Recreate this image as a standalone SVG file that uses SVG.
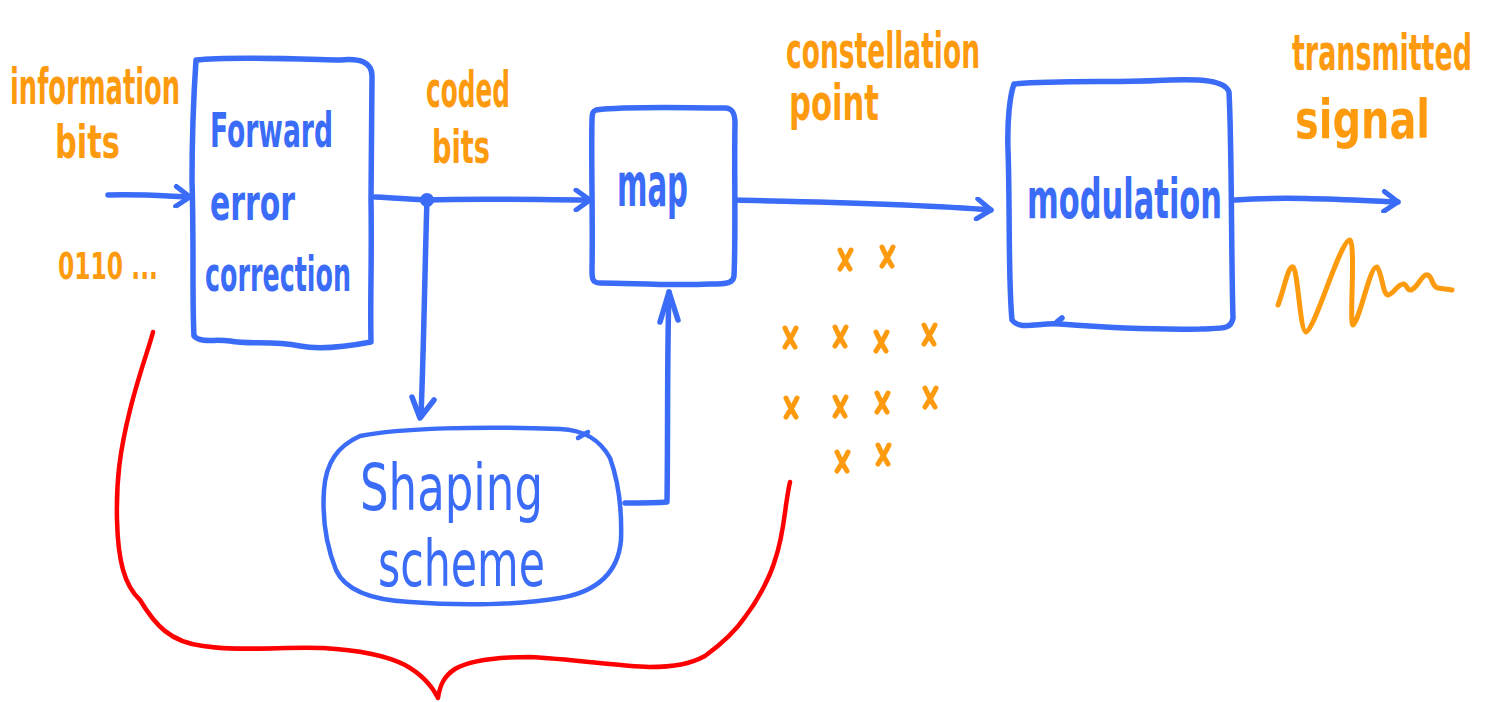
<svg xmlns="http://www.w3.org/2000/svg" xmlns:xlink="http://www.w3.org/1999/xlink" width="1493" height="702" viewBox="0 0 1493 702">
  <style>
    .ink { fill: none; stroke: #3b6cf7; stroke-width: 5.5; stroke-linecap: round; stroke-linejoin: round; }
    .thin { stroke-width: 4.5; }
    .hand { font-family: "Liberation Sans Narrow", "DejaVu Sans Condensed", "Liberation Sans", sans-serif; font-weight: bold; }
    .blue { fill: #3b6cf7; }
    .orange { fill: #fd9a0e; }
    .light { font-weight: normal; }
    .mark { fill: none; stroke: #fd9a0e; stroke-width: 5; stroke-linecap: round; stroke-linejoin: round; }
    .brace { fill: none; stroke: #ff0000; stroke-width: 4.5; stroke-linecap: round; stroke-linejoin: round; }
  </style>
  <defs>
    <path id="xmark" d="M-5,-10 C-2,-3 2,4 5,9 M6,-10 C3,-3 -2,4 -5,9"/>
    <marker id="chev" viewBox="0 0 24 24" refX="20" refY="12" markerWidth="24" markerHeight="24" markerUnits="userSpaceOnUse" orient="auto">
      <path d="M6,2 L20,12 L6,22" fill="none" stroke="#3b6cf7" stroke-width="5" stroke-linecap="round" stroke-linejoin="round"/>
    </marker>
  </defs>

  <rect width="1493" height="702" fill="#ffffff"/>

  <!-- forward error correction block -->
  <g id="node-fec">
    <path class="ink" d="M196,60 C230,56 300,59 340,60 C360,58 372,62 372,76 L371,200 C372,260 370,300 371,342 C350,346 320,350 300,346 C270,340 250,345 230,341 C215,339 200,343 194,336 C192,300 194,250 192,180 C192,130 194,90 196,60 Z"/>
    <text class="hand blue" x="210" y="147" font-size="48" textLength="123" lengthAdjust="spacingAndGlyphs">Forward</text>
    <text class="hand blue" x="210" y="220" font-size="50" textLength="85" lengthAdjust="spacingAndGlyphs">error</text>
    <text class="hand blue" x="205" y="291" font-size="48" textLength="146" lengthAdjust="spacingAndGlyphs">correction</text>
  </g>

  <!-- mapper block -->
  <g id="node-map">
    <path class="ink" d="M596,110 C630,106 680,108 725,108 C733,108 735,114 735,124 C734,170 736,230 734,276 C733,283 728,284 710,284 C670,286 630,283 600,283 C592,283 592,278 592,270 C593,220 591,160 592,120 C592,113 593,111 596,110 Z"/>
    <text class="hand blue" x="617" y="206" font-size="60" textLength="71" lengthAdjust="spacingAndGlyphs">map</text>
  </g>

  <!-- shaping scheme block -->
  <g id="node-shaping">
    <path class="ink thin" d="M360,436 C400,428 480,426 560,429 C585,430 600,440 610,458 C618,480 622,510 621,540 C618,575 595,592 560,598 C520,605 460,606 410,602 C370,600 345,590 336,570 C326,545 322,520 324,490 C326,462 338,446 360,436 Z"/>
    <path class="ink thin" d="M578,438 L588,432"/>
    <text class="hand blue light" x="360" y="510" font-size="64" textLength="183" lengthAdjust="spacingAndGlyphs">Shaping</text>
    <text class="hand blue light" x="378" y="586" font-size="64" textLength="167" lengthAdjust="spacingAndGlyphs">scheme</text>
  </g>

  <!-- modulation block -->
  <g id="node-modulation">
    <path class="ink" d="M1014,84 C1060,80 1120,83 1170,80 C1200,79 1225,80 1229,92 C1232,150 1231,250 1233,318 C1231,330 1222,328 1200,329 C1150,330 1100,327 1060,324 C1040,322 1020,331 1012,320 C1008,280 1010,200 1008,150 C1007,120 1010,95 1014,84 Z"/>
    <path class="ink" d="M1057,322 L1062,318"/>
    <text class="hand blue" x="1027" y="218" font-size="56" textLength="195" lengthAdjust="spacingAndGlyphs">modulation</text>
  </g>

  <!-- signal labels -->
  <g id="labels">
    <text class="hand orange" x="10" y="104" font-size="50" textLength="170" lengthAdjust="spacingAndGlyphs">information</text>
    <text class="hand orange" x="55" y="158" font-size="46" textLength="65" lengthAdjust="spacingAndGlyphs">bits</text>
    <text class="hand orange" x="58" y="279" font-size="38" textLength="100" lengthAdjust="spacingAndGlyphs">0110 ...</text>
    <text class="hand orange" x="426" y="107" font-size="50" textLength="84" lengthAdjust="spacingAndGlyphs">coded</text>
    <text class="hand orange" x="432" y="163" font-size="46" textLength="58" lengthAdjust="spacingAndGlyphs">bits</text>
    <text class="hand orange" x="786" y="68" font-size="50" textLength="194" lengthAdjust="spacingAndGlyphs">constellation</text>
    <text class="hand orange" x="789" y="120" font-size="50" textLength="90" lengthAdjust="spacingAndGlyphs">point</text>
    <text class="hand orange" x="1292" y="70" font-size="50" textLength="180" lengthAdjust="spacingAndGlyphs">transmitted</text>
    <text class="hand orange" x="1295" y="138" font-size="54" textLength="135" lengthAdjust="spacingAndGlyphs">signal</text>
  </g>

  <!-- connectors -->
  <g id="connectors">
    <path class="ink" d="M108,195 C140,194 165,196 190,197" marker-end="url(#chev)"/>
    <path class="ink" d="M375,197 C400,198 415,200 427,200 C480,198 540,200 590,200" marker-end="url(#chev)"/>
    <circle cx="427" cy="200" r="7" fill="#3b6cf7"/>
    <path class="ink" d="M427,200 C425,260 424,340 421,416"/>
    <path class="ink" d="M412,397 L420,418 L434,400"/>
    <path class="ink" d="M625,503 C640,503 655,503 667,502 C668,430 667,350 669,292"/>
    <path class="ink" d="M660,322 L669,292 L678,320"/>
    <path class="ink" d="M735,200 C800,202 900,203 991,210" marker-end="url(#chev)"/>
    <path class="ink" d="M1235,200 C1290,196 1350,200 1398,202" marker-end="url(#chev)"/>
  </g>

  <!-- constellation points -->
  <g id="constellation" class="mark">
    <use xlink:href="#xmark" x="845" y="260"/>
    <use xlink:href="#xmark" x="887" y="257"/>
    <use xlink:href="#xmark" x="790" y="338"/>
    <use xlink:href="#xmark" x="840" y="337"/>
    <use xlink:href="#xmark" x="881" y="342"/>
    <use xlink:href="#xmark" x="929" y="335"/>
    <use xlink:href="#xmark" x="791" y="408"/>
    <use xlink:href="#xmark" x="840" y="407"/>
    <use xlink:href="#xmark" x="882" y="403"/>
    <use xlink:href="#xmark" x="930" y="398"/>
    <use xlink:href="#xmark" x="842" y="462"/>
    <use xlink:href="#xmark" x="883" y="455"/>
  </g>

  <!-- transmitted waveform -->
  <g id="waveform">
    <path class="mark" d="M1278,305 C1284,290 1288,265 1293,267 C1298,270 1300,332 1306,332 C1315,330 1340,240 1350,240 C1356,245 1349,325 1353,325 C1360,320 1370,265 1377,267 C1382,272 1383,296 1388,295 C1394,294 1398,283 1404,284 C1408,286 1407,291 1411,290 C1418,288 1422,273 1428,275 C1433,278 1432,287 1438,288 C1444,289 1448,289 1452,290"/>
  </g>

  <!-- brace spanning the shaping part -->
  <g id="brace">
    <path class="brace" d="M153,332 C150,345 140,370 130,410 C120,450 116,480 117,520 C118,560 124,585 140,600 C155,625 170,642 203,646 C240,652 290,646 323,648 C360,650 385,655 405,665 C425,676 433,688 438,698 C440,685 444,676 455,669 C470,660 500,657 530,657 C570,659 620,666 649,667 C675,667 690,664 705,656 C720,645 735,632 745,617 C758,600 770,577 775,560 C782,540 784,520 786,505 C788,492 789,486 790,482"/>
  </g>
</svg>
